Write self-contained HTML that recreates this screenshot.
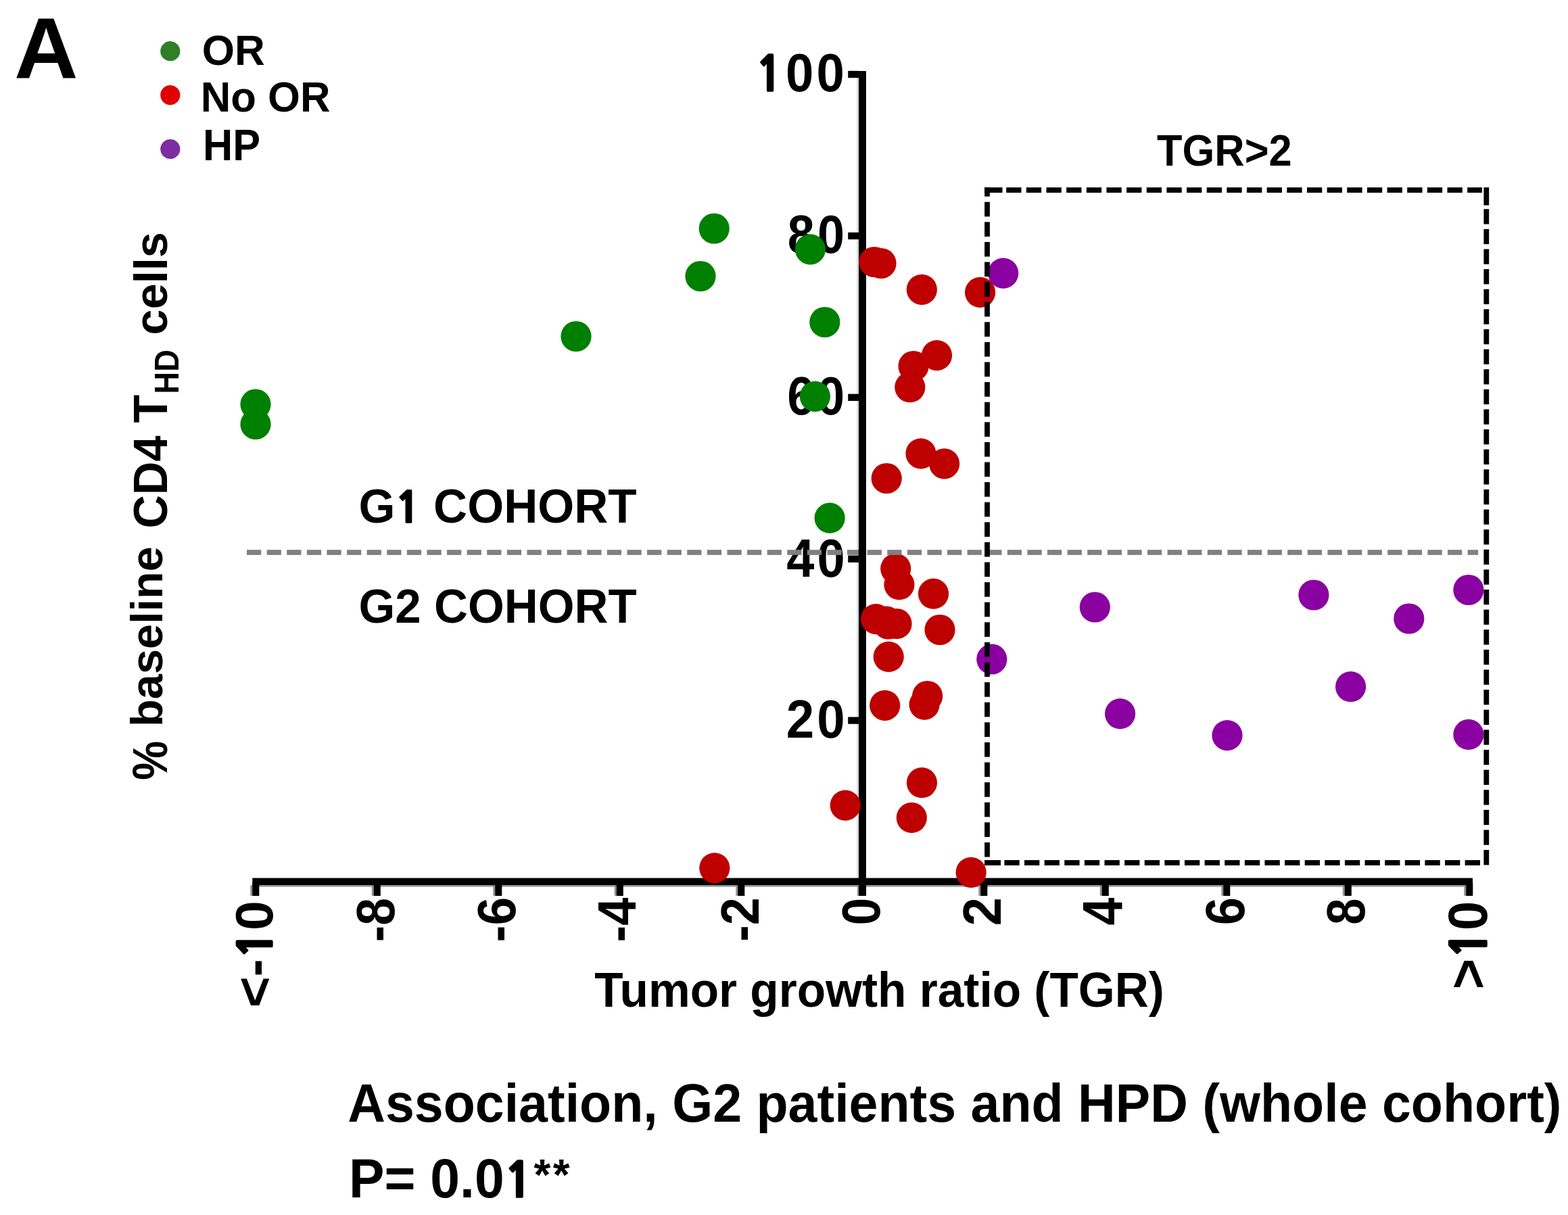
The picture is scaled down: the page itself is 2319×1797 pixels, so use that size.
<!DOCTYPE html>
<html><head><meta charset="utf-8"><title>TGR vs CD4 THD cells</title>
<style>html,body{margin:0;padding:0;background:#fff;overflow:hidden}svg{display:block}</style>
</head><body><svg xmlns="http://www.w3.org/2000/svg" width="2319" height="1797" viewBox="0 0 2319 1797"><g font-family="'Liberation Sans', Arial, Helvetica, sans-serif" font-weight="bold" fill="#000"><text x="0" y="0" font-size="124" transform="matrix(1.05586 0.00000 0.00000 1.02874 21.032 115.800)">A</text><text x="0" y="0" font-size="62" transform="matrix(1.00168 0.00000 0.00000 1.00682 298.796 95.945)">OR</text><text x="0" y="0" font-size="62" transform="matrix(0.99546 0.00000 0.00000 1.01818 296.669 164.936)">No OR</text><text x="0" y="0" font-size="62" transform="matrix(0.98809 0.00000 0.00000 1.04327 300.101 237.300)">HP</text><text x="0" y="0" font-size="79" text-anchor="end" letter-spacing="4.5" transform="matrix(0.94131 0.00000 0.00000 1.00622 1253.195 134.844)"><tspan font-family="NanumGothic, 'Liberation Sans', sans-serif" font-weight="800" font-size="88.7%" stroke="#000" stroke-width="1.4">1</tspan>00</text><text x="0" y="0" font-size="79" text-anchor="end" letter-spacing="4.5" transform="matrix(0.91066 0.00000 0.00000 1.01250 1253.058 373.891)">80</text><text x="0" y="0" font-size="79" text-anchor="end" letter-spacing="4.5" transform="matrix(0.91826 0.00000 0.00000 1.01250 1253.317 612.991)">60</text><text x="0" y="0" font-size="79" text-anchor="end" letter-spacing="4.5" transform="matrix(0.93636 0.00000 0.00000 1.00714 1253.857 852.595)">40</text><text x="0" y="0" font-size="79" text-anchor="end" letter-spacing="4.5" transform="matrix(0.94220 0.00000 0.00000 1.01071 1253.902 1091.492)">20</text><text x="0" y="0" font-size="79" text-anchor="end" transform="matrix(0.00000 -0.99442 0.99643 0.00000 403.353 1332.368)">&lt;-<tspan font-family="NanumGothic, 'Liberation Sans', sans-serif" font-weight="800" font-size="88.7%" stroke="#000" stroke-width="1.4">1</tspan>0</text><text x="0" y="0" font-size="79" text-anchor="end" transform="matrix(0.00000 -0.92819 1.01704 0.00000 582.688 1328.080)">-8</text><text x="0" y="0" font-size="79" text-anchor="end" transform="matrix(0.00000 -0.94884 0.99731 0.00000 762.302 1326.791)">-6</text><text x="0" y="0" font-size="79" text-anchor="end" transform="matrix(0.00000 -0.93633 1.01751 0.00000 940.451 1327.632)">-4</text><text x="0" y="0" font-size="79" text-anchor="end" transform="matrix(0.00000 -0.93281 1.01455 0.00000 1121.551 1327.268)">-2</text><text x="0" y="0" font-size="79" text-anchor="end" transform="matrix(0.00000 -0.92533 1.00448 0.00000 1301.197 1327.793)">0</text><text x="0" y="0" font-size="79" text-anchor="end" transform="matrix(0.00000 -0.96579 1.01273 0.00000 1479.851 1327.161)">2</text><text x="0" y="0" font-size="79" text-anchor="end" transform="matrix(0.00000 -0.93964 1.05438 0.00000 1659.653 1327.430)">4</text><text x="0" y="0" font-size="79" text-anchor="end" transform="matrix(0.00000 -0.93595 1.02601 0.00000 1839.682 1327.126)">6</text><text x="0" y="0" font-size="79" text-anchor="end" transform="matrix(0.00000 -0.88974 1.00448 0.00000 2018.297 1328.576)">8</text><text x="0" y="0" font-size="79" text-anchor="end" transform="matrix(0.00000 -0.98333 1.04286 0.00000 2198.709 1332.804)">&gt;<tspan font-family="NanumGothic, 'Liberation Sans', sans-serif" font-weight="800" font-size="88.7%" stroke="#000" stroke-width="1.4">1</tspan>0</text><text x="0" y="0" font-size="62" transform="matrix(0.99067 0.00000 0.00000 1.04094 1711.057 244.800)">TGR&gt;2</text><text x="0" y="0" font-size="68.5" transform="matrix(1.01292 0.00000 0.00000 1.02268 530.514 773.333)">G<tspan font-family="NanumGothic, 'Liberation Sans', sans-serif" font-weight="800" font-size="88.7%" stroke="#000" stroke-width="1.4">1</tspan> COHORT</text><text x="0" y="0" font-size="68.5" transform="matrix(1.00978 0.00000 0.00000 1.03299 530.523 921.025)">G2 COHORT</text><text x="0" y="0" font-size="70" transform="matrix(0.99113 0.00000 0.00000 1.03420 879.357 1488.945)">Tumor growth ratio (TGR)</text><text x="0" y="0" font-size="78" transform="matrix(0.98867 0.00000 0.00000 1.02698 514.223 1659.049)">Association, G2 patients and HPD (whole cohort)</text><text x="0" y="0" font-size="78" transform="matrix(1.00942 0.00000 0.00000 1.03442 515.901 1770.648)">P= 0.0<tspan font-family="NanumGothic, 'Liberation Sans', sans-serif" font-weight="800" font-size="88.7%" stroke="#000" stroke-width="1.4">1</tspan><tspan font-size="81%" dx="1.5" dy="-10.2">*</tspan><tspan font-size="81%" dx="3.5">*</tspan></text><text x="0" y="0" font-size="70" transform="matrix(0.00000 -0.93277 1.03553 0.00000 247.482 1153.832)">%</text><text x="0" y="0" font-size="67" transform="matrix(0.00000 -0.99483 0.98274 0.00000 239.763 1074.877)">baseline</text><text x="0" y="0" font-size="70" transform="matrix(0.00000 -0.97811 1.01709 0.00000 247.237 781.390)">CD4 T</text><text x="0" y="0" font-size="47" transform="matrix(0.00000 -0.96190 1.06357 0.00000 263.947 582.486)">HD</text><text x="0" y="0" font-size="70" transform="matrix(0.00000 -0.97800 0.97476 0.00000 247.069 495.389)">cells</text></g><g fill="#000"><rect x="1267.4" y="105" width="2.8" height="1194" fill="#d4d4d4"/><rect x="373.3" y="1309.2" width="1804.7" height="2.6" fill="#a0a0a0"/><rect x="370.30" y="1309.2" width="3" height="15.6" fill="#909090"/><rect x="549.80" y="1309.2" width="3" height="15.6" fill="#909090"/><rect x="729.30" y="1309.2" width="3" height="15.6" fill="#909090"/><rect x="908.80" y="1309.2" width="3" height="15.6" fill="#909090"/><rect x="1088.30" y="1309.2" width="3" height="15.6" fill="#909090"/><rect x="1267.80" y="1309.2" width="3" height="15.6" fill="#909090"/><rect x="1447.30" y="1309.2" width="3" height="15.6" fill="#909090"/><rect x="1626.80" y="1309.2" width="3" height="15.6" fill="#909090"/><rect x="1806.30" y="1309.2" width="3" height="15.6" fill="#909090"/><rect x="1985.80" y="1309.2" width="3" height="15.6" fill="#909090"/><rect x="2165.30" y="1309.2" width="3" height="15.6" fill="#909090"/><rect x="1270.1" y="105" width="10.8" height="1220"/><rect x="373.3" y="1298.6" width="1804.7" height="10.6"/><rect x="1254.2" y="104.85" width="16" height="10.3"/><rect x="1254.2" y="343.75" width="16" height="10.3"/><rect x="1254.2" y="582.65" width="16" height="10.3"/><rect x="1254.2" y="821.55" width="16" height="10.3"/><rect x="1254.2" y="1060.45" width="16" height="10.3"/><rect x="373.20" y="1305" width="10.1" height="20" /><rect x="552.70" y="1305" width="10.1" height="20" /><rect x="732.20" y="1305" width="10.1" height="20" /><rect x="911.70" y="1305" width="10.1" height="20" /><rect x="1091.20" y="1305" width="10.1" height="20" /><rect x="1270.70" y="1305" width="10.1" height="20" /><rect x="1450.20" y="1305" width="10.1" height="20" /><rect x="1629.70" y="1305" width="10.1" height="20" /><rect x="1809.20" y="1305" width="10.1" height="20" /><rect x="1988.70" y="1305" width="10.1" height="20" /><rect x="2168.20" y="1305" width="10.1" height="20" /></g><g fill="#008000"><circle cx="378.0" cy="598.0" r="22.6"/><circle cx="378.0" cy="627.5" r="22.6"/><circle cx="852.0" cy="497.5" r="22.6"/><circle cx="1036.0" cy="408.5" r="22.6"/><circle cx="1056.2" cy="338.0" r="22.6"/><circle cx="1198.4" cy="368.8" r="22.6"/><circle cx="1219.8" cy="476.5" r="22.6"/><circle cx="1205.4" cy="586.3" r="22.6"/><circle cx="1227.1" cy="766.2" r="22.6"/></g><g fill="#BE0000"><circle cx="1293.0" cy="387.5" r="22.6"/><circle cx="1303.0" cy="389.5" r="22.6"/><circle cx="1363.3" cy="428.3" r="22.6"/><circle cx="1449.6" cy="432.4" r="22.6"/><circle cx="1385.5" cy="525.6" r="22.6"/><circle cx="1351.0" cy="541.5" r="22.6"/><circle cx="1345.8" cy="572.7" r="22.6"/><circle cx="1361.9" cy="670.8" r="22.6"/><circle cx="1396.6" cy="685.8" r="22.6"/><circle cx="1311.2" cy="707.5" r="22.6"/><circle cx="1324.7" cy="841.1" r="22.6"/><circle cx="1329.9" cy="864.7" r="22.6"/><circle cx="1380.5" cy="878.2" r="22.6"/><circle cx="1295.6" cy="915.6" r="22.6"/><circle cx="1310.5" cy="919.0" r="22.6"/><circle cx="1313.5" cy="923.0" r="22.6"/><circle cx="1326.0" cy="922.5" r="22.6"/><circle cx="1390.0" cy="931.5" r="22.6"/><circle cx="1314.2" cy="971.4" r="22.6"/><circle cx="1308.7" cy="1043.3" r="22.6"/><circle cx="1371.6" cy="1029.5" r="22.6"/><circle cx="1367.1" cy="1042.1" r="22.6"/><circle cx="1363.4" cy="1157.7" r="22.6"/><circle cx="1348.3" cy="1209.4" r="22.6"/><circle cx="1250.2" cy="1191.1" r="22.6"/><circle cx="1056.8" cy="1283.8" r="22.6"/><circle cx="1436.1" cy="1290.3" r="22.6"/></g><g fill="#8A00A0"><circle cx="1483.7" cy="404.1" r="22.6"/><circle cx="1466.8" cy="975.0" r="22.6"/><circle cx="1619.3" cy="898.0" r="22.6"/><circle cx="1656.6" cy="1055.7" r="22.6"/><circle cx="1942.9" cy="880.0" r="22.6"/><circle cx="2171.9" cy="872.5" r="22.6"/><circle cx="2083.8" cy="915.0" r="22.6"/><circle cx="1997.6" cy="1015.7" r="22.6"/><circle cx="1815.0" cy="1087.6" r="22.6"/><circle cx="2171.9" cy="1086.4" r="22.6"/></g><circle cx="251.8" cy="75.7" r="14.6" fill="#2E7F28"/><circle cx="251.8" cy="140.6" r="14.6" fill="#E00000"/><circle cx="251.8" cy="220.5" r="14.6" fill="#7D2DA0"/><g fill="#808080"><rect x="365.00" y="813.20" width="21.30" height="7.60"/><rect x="394.60" y="813.20" width="21.30" height="7.60"/><rect x="424.20" y="813.20" width="21.30" height="7.60"/><rect x="453.80" y="813.20" width="21.30" height="7.60"/><rect x="483.40" y="813.20" width="21.30" height="7.60"/><rect x="513.00" y="813.20" width="21.30" height="7.60"/><rect x="542.60" y="813.20" width="21.30" height="7.60"/><rect x="572.20" y="813.20" width="21.30" height="7.60"/><rect x="601.80" y="813.20" width="21.30" height="7.60"/><rect x="631.40" y="813.20" width="21.30" height="7.60"/><rect x="661.00" y="813.20" width="21.30" height="7.60"/><rect x="690.60" y="813.20" width="21.30" height="7.60"/><rect x="720.20" y="813.20" width="21.30" height="7.60"/><rect x="749.80" y="813.20" width="21.30" height="7.60"/><rect x="779.40" y="813.20" width="21.30" height="7.60"/><rect x="809.00" y="813.20" width="21.30" height="7.60"/><rect x="838.60" y="813.20" width="21.30" height="7.60"/><rect x="868.20" y="813.20" width="21.30" height="7.60"/><rect x="897.80" y="813.20" width="21.30" height="7.60"/><rect x="927.40" y="813.20" width="21.30" height="7.60"/><rect x="957.00" y="813.20" width="21.30" height="7.60"/><rect x="986.60" y="813.20" width="21.30" height="7.60"/><rect x="1016.20" y="813.20" width="21.30" height="7.60"/><rect x="1045.80" y="813.20" width="21.30" height="7.60"/><rect x="1075.40" y="813.20" width="21.30" height="7.60"/><rect x="1105.00" y="813.20" width="21.30" height="7.60"/><rect x="1134.60" y="813.20" width="21.30" height="7.60"/><rect x="1164.20" y="813.20" width="21.30" height="7.60"/><rect x="1193.80" y="813.20" width="21.30" height="7.60"/><rect x="1223.40" y="813.20" width="21.30" height="7.60"/><rect x="1253.00" y="813.20" width="21.30" height="7.60"/><rect x="1282.60" y="813.20" width="21.30" height="7.60"/><rect x="1312.20" y="813.20" width="21.30" height="7.60"/><rect x="1341.80" y="813.20" width="21.30" height="7.60"/><rect x="1371.40" y="813.20" width="21.30" height="7.60"/><rect x="1401.00" y="813.20" width="21.30" height="7.60"/><rect x="1430.60" y="813.20" width="21.30" height="7.60"/><rect x="1460.20" y="813.20" width="21.30" height="7.60"/><rect x="1489.80" y="813.20" width="21.30" height="7.60"/><rect x="1519.40" y="813.20" width="21.30" height="7.60"/><rect x="1549.00" y="813.20" width="21.30" height="7.60"/><rect x="1578.60" y="813.20" width="21.30" height="7.60"/><rect x="1608.20" y="813.20" width="21.30" height="7.60"/><rect x="1637.80" y="813.20" width="21.30" height="7.60"/><rect x="1667.40" y="813.20" width="21.30" height="7.60"/><rect x="1697.00" y="813.20" width="21.30" height="7.60"/><rect x="1726.60" y="813.20" width="21.30" height="7.60"/><rect x="1756.20" y="813.20" width="21.30" height="7.60"/><rect x="1785.80" y="813.20" width="21.30" height="7.60"/><rect x="1815.40" y="813.20" width="21.30" height="7.60"/><rect x="1845.00" y="813.20" width="21.30" height="7.60"/><rect x="1874.60" y="813.20" width="21.30" height="7.60"/><rect x="1904.20" y="813.20" width="21.30" height="7.60"/><rect x="1933.80" y="813.20" width="21.30" height="7.60"/><rect x="1963.40" y="813.20" width="21.30" height="7.60"/><rect x="1993.00" y="813.20" width="21.30" height="7.60"/><rect x="2022.60" y="813.20" width="21.30" height="7.60"/><rect x="2052.20" y="813.20" width="21.30" height="7.60"/><rect x="2081.80" y="813.20" width="21.30" height="7.60"/><rect x="2111.40" y="813.20" width="21.30" height="7.60"/><rect x="2141.00" y="813.20" width="21.30" height="7.60"/><rect x="2170.60" y="813.20" width="15.50" height="7.60"/></g><rect x="1269.8" y="812" width="11" height="10" fill="#000"/><g fill="#000"><rect x="1456" y="277.20" width="26.5" height="7.80"/><rect x="1488.20" y="277.20" width="22.30" height="7.80"/><rect x="1517.85" y="277.20" width="22.30" height="7.80"/><rect x="1547.50" y="277.20" width="22.30" height="7.80"/><rect x="1577.15" y="277.20" width="22.30" height="7.80"/><rect x="1606.80" y="277.20" width="22.30" height="7.80"/><rect x="1636.45" y="277.20" width="22.30" height="7.80"/><rect x="1666.10" y="277.20" width="22.30" height="7.80"/><rect x="1695.75" y="277.20" width="22.30" height="7.80"/><rect x="1725.40" y="277.20" width="22.30" height="7.80"/><rect x="1755.05" y="277.20" width="22.30" height="7.80"/><rect x="1784.70" y="277.20" width="22.30" height="7.80"/><rect x="1814.35" y="277.20" width="22.30" height="7.80"/><rect x="1844.00" y="277.20" width="22.30" height="7.80"/><rect x="1873.65" y="277.20" width="22.30" height="7.80"/><rect x="1903.30" y="277.20" width="22.30" height="7.80"/><rect x="1932.95" y="277.20" width="22.30" height="7.80"/><rect x="1962.60" y="277.20" width="22.30" height="7.80"/><rect x="1992.25" y="277.20" width="22.30" height="7.80"/><rect x="2021.90" y="277.20" width="22.30" height="7.80"/><rect x="2051.55" y="277.20" width="22.30" height="7.80"/><rect x="2081.20" y="277.20" width="22.30" height="7.80"/><rect x="2110.85" y="277.20" width="22.30" height="7.80"/><rect x="2140.50" y="277.20" width="22.30" height="7.80"/><rect x="2170.15" y="277.20" width="21.85" height="7.80"/><rect x="1456" y="1272.10" width="24" height="7.80"/><rect x="1485.40" y="1272.10" width="22.30" height="7.80"/><rect x="1515.02" y="1272.10" width="22.30" height="7.80"/><rect x="1544.64" y="1272.10" width="22.30" height="7.80"/><rect x="1574.26" y="1272.10" width="22.30" height="7.80"/><rect x="1603.88" y="1272.10" width="22.30" height="7.80"/><rect x="1633.50" y="1272.10" width="22.30" height="7.80"/><rect x="1663.12" y="1272.10" width="22.30" height="7.80"/><rect x="1692.74" y="1272.10" width="22.30" height="7.80"/><rect x="1722.36" y="1272.10" width="22.30" height="7.80"/><rect x="1751.98" y="1272.10" width="22.30" height="7.80"/><rect x="1781.60" y="1272.10" width="22.30" height="7.80"/><rect x="1811.22" y="1272.10" width="22.30" height="7.80"/><rect x="1840.84" y="1272.10" width="22.30" height="7.80"/><rect x="1870.46" y="1272.10" width="22.30" height="7.80"/><rect x="1900.08" y="1272.10" width="22.30" height="7.80"/><rect x="1929.70" y="1272.10" width="22.30" height="7.80"/><rect x="1959.32" y="1272.10" width="22.30" height="7.80"/><rect x="1988.94" y="1272.10" width="22.30" height="7.80"/><rect x="2018.56" y="1272.10" width="22.30" height="7.80"/><rect x="2048.18" y="1272.10" width="22.30" height="7.80"/><rect x="2077.80" y="1272.10" width="22.30" height="7.80"/><rect x="2107.42" y="1272.10" width="22.30" height="7.80"/><rect x="2137.04" y="1272.10" width="22.30" height="7.80"/><rect x="2166.66" y="1272.10" width="22.30" height="7.80"/><rect x="2194.40" y="277.2" width="7.80" height="26.4"/><rect x="2194.40" y="309.20" width="7.80" height="22.30"/><rect x="2194.40" y="338.82" width="7.80" height="22.30"/><rect x="2194.40" y="368.44" width="7.80" height="22.30"/><rect x="2194.40" y="398.06" width="7.80" height="22.30"/><rect x="2194.40" y="427.68" width="7.80" height="22.30"/><rect x="2194.40" y="457.30" width="7.80" height="22.30"/><rect x="2194.40" y="486.92" width="7.80" height="22.30"/><rect x="2194.40" y="516.54" width="7.80" height="22.30"/><rect x="2194.40" y="546.16" width="7.80" height="22.30"/><rect x="2194.40" y="575.78" width="7.80" height="22.30"/><rect x="2194.40" y="605.40" width="7.80" height="22.30"/><rect x="2194.40" y="635.02" width="7.80" height="22.30"/><rect x="2194.40" y="664.64" width="7.80" height="22.30"/><rect x="2194.40" y="694.26" width="7.80" height="22.30"/><rect x="2194.40" y="723.88" width="7.80" height="22.30"/><rect x="2194.40" y="753.50" width="7.80" height="22.30"/><rect x="2194.40" y="783.12" width="7.80" height="22.30"/><rect x="2194.40" y="812.74" width="7.80" height="22.30"/><rect x="2194.40" y="842.36" width="7.80" height="22.30"/><rect x="2194.40" y="871.98" width="7.80" height="22.30"/><rect x="2194.40" y="901.60" width="7.80" height="22.30"/><rect x="2194.40" y="931.22" width="7.80" height="22.30"/><rect x="2194.40" y="960.84" width="7.80" height="22.30"/><rect x="2194.40" y="990.46" width="7.80" height="22.30"/><rect x="2194.40" y="1020.08" width="7.80" height="22.30"/><rect x="2194.40" y="1049.70" width="7.80" height="22.30"/><rect x="2194.40" y="1079.32" width="7.80" height="22.30"/><rect x="2194.40" y="1108.94" width="7.80" height="22.30"/><rect x="2194.40" y="1138.56" width="7.80" height="22.30"/><rect x="2194.40" y="1168.18" width="7.80" height="22.30"/><rect x="2194.40" y="1197.80" width="7.80" height="22.30"/><rect x="2194.40" y="1227.42" width="7.80" height="22.30"/><rect x="2194.40" y="1257.04" width="7.80" height="22.30"/><rect x="1456.10" y="277.2" width="7.80" height="13.4"/><rect x="1456.10" y="298.70" width="7.80" height="21.60"/><rect x="1456.10" y="328.30" width="7.80" height="21.60"/><rect x="1456.10" y="357.90" width="7.80" height="21.60"/><rect x="1456.10" y="387.50" width="7.80" height="21.60"/><rect x="1456.10" y="417.10" width="7.80" height="21.60"/><rect x="1456.10" y="446.70" width="7.80" height="21.60"/><rect x="1456.10" y="476.30" width="7.80" height="21.60"/><rect x="1456.10" y="505.90" width="7.80" height="21.60"/><rect x="1456.10" y="535.50" width="7.80" height="21.60"/><rect x="1456.10" y="565.10" width="7.80" height="21.60"/><rect x="1456.10" y="594.70" width="7.80" height="21.60"/><rect x="1456.10" y="624.30" width="7.80" height="21.60"/><rect x="1456.10" y="653.90" width="7.80" height="21.60"/><rect x="1456.10" y="683.50" width="7.80" height="21.60"/><rect x="1456.10" y="713.10" width="7.80" height="21.60"/><rect x="1456.10" y="742.70" width="7.80" height="21.60"/><rect x="1456.10" y="772.30" width="7.80" height="21.60"/><rect x="1456.10" y="801.90" width="7.80" height="21.60"/><rect x="1456.10" y="831.50" width="7.80" height="21.60"/><rect x="1456.10" y="861.10" width="7.80" height="21.60"/><rect x="1456.10" y="890.70" width="7.80" height="21.60"/><rect x="1456.10" y="920.30" width="7.80" height="21.60"/><rect x="1456.10" y="949.90" width="7.80" height="21.60"/><rect x="1456.10" y="979.50" width="7.80" height="21.60"/><rect x="1456.10" y="1009.10" width="7.80" height="21.60"/><rect x="1456.10" y="1038.70" width="7.80" height="21.60"/><rect x="1456.10" y="1068.30" width="7.80" height="21.60"/><rect x="1456.10" y="1097.90" width="7.80" height="21.60"/><rect x="1456.10" y="1127.50" width="7.80" height="21.60"/><rect x="1456.10" y="1157.10" width="7.80" height="21.60"/><rect x="1456.10" y="1186.70" width="7.80" height="21.60"/><rect x="1456.10" y="1216.30" width="7.80" height="21.60"/><rect x="1456.10" y="1245.90" width="7.80" height="21.60"/></g></svg></body></html>
